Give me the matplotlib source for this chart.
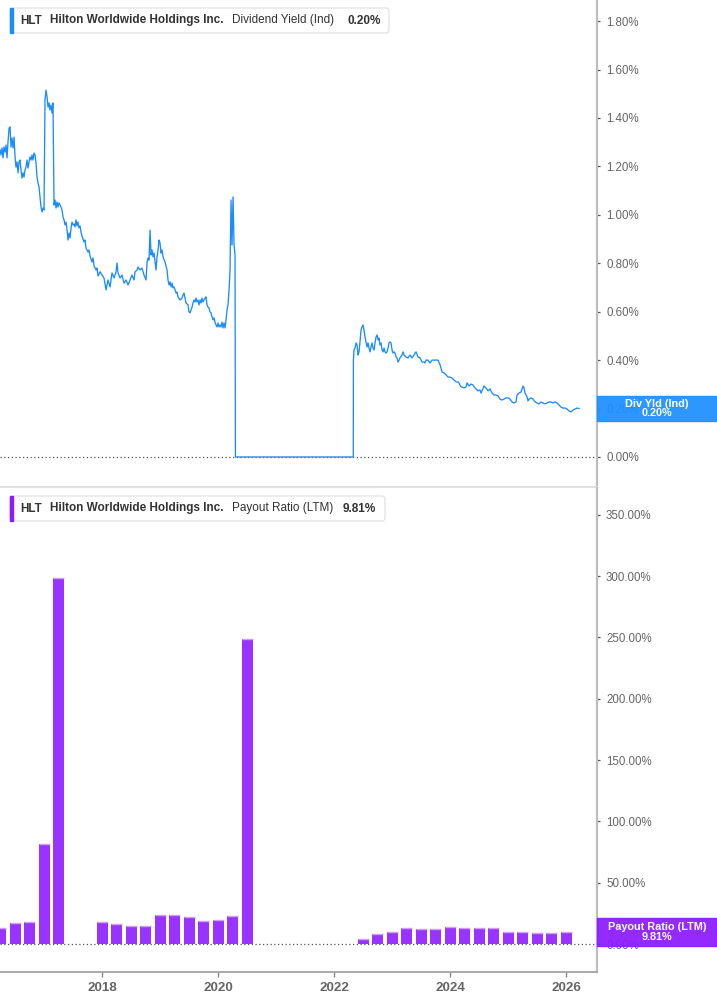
import matplotlib
matplotlib.use("Agg")
import matplotlib.pyplot as plt
from matplotlib.patches import FancyBboxPatch, Rectangle
from matplotlib.transforms import blended_transform_factory
import numpy as np

W, H = 717, 1005

# dividend yield (Ind), % -- decimal year
yield_years = [
    2016.241, 2016.259, 2016.276, 2016.293, 2016.310, 2016.328, 2016.345, 2016.362, 2016.379, 2016.397,
    2016.414, 2016.431, 2016.448, 2016.466, 2016.483, 2016.500, 2016.517, 2016.534, 2016.552, 2016.569,
    2016.586, 2016.603, 2016.621, 2016.638, 2016.655, 2016.672, 2016.690, 2016.707, 2016.724, 2016.741,
    2016.759, 2016.776, 2016.793, 2016.810, 2016.828, 2016.845, 2016.862, 2016.879, 2016.897, 2016.914,
    2016.931, 2016.948, 2016.966, 2016.983, 2017.000, 2017.017, 2017.034, 2017.052, 2017.069, 2017.086,
    2017.103, 2017.121, 2017.138, 2017.155, 2017.172, 2017.190, 2017.207, 2017.224, 2017.241, 2017.259,
    2017.276, 2017.293, 2017.310, 2017.328, 2017.345, 2017.362, 2017.379, 2017.397, 2017.414, 2017.431,
    2017.448, 2017.466, 2017.483, 2017.500, 2017.517, 2017.534, 2017.552, 2017.569, 2017.586, 2017.603,
    2017.621, 2017.638, 2017.655, 2017.690, 2017.707, 2017.724, 2017.759, 2017.776, 2017.793, 2017.828,
    2017.845, 2017.862, 2017.897, 2017.914, 2017.931, 2017.966, 2018.000, 2018.034, 2018.069, 2018.103,
    2018.138, 2018.172, 2018.207, 2018.241, 2018.259, 2018.276, 2018.310, 2018.345, 2018.379, 2018.414,
    2018.448, 2018.483, 2018.517, 2018.552, 2018.569, 2018.603, 2018.621, 2018.655, 2018.690, 2018.724,
    2018.759, 2018.776, 2018.793, 2018.810, 2018.828, 2018.845, 2018.862, 2018.879, 2018.897, 2018.914,
    2018.931, 2018.948, 2018.966, 2018.983, 2019.000, 2019.017, 2019.034, 2019.052, 2019.086, 2019.121,
    2019.138, 2019.155, 2019.172, 2019.190, 2019.207, 2019.224, 2019.241, 2019.259, 2019.276, 2019.293,
    2019.310, 2019.345, 2019.379, 2019.397, 2019.414, 2019.431, 2019.448, 2019.483, 2019.500, 2019.517,
    2019.534, 2019.552, 2019.569, 2019.586, 2019.603, 2019.621, 2019.638, 2019.655, 2019.672, 2019.690,
    2019.707, 2019.724, 2019.741, 2019.759, 2019.776, 2019.793, 2019.810, 2019.828, 2019.845, 2019.862,
    2019.879, 2019.897, 2019.914, 2019.931, 2019.948, 2019.966, 2019.983, 2020.000, 2020.017, 2020.034,
    2020.052, 2020.069, 2020.086, 2020.103, 2020.121, 2020.138, 2020.155, 2020.172, 2020.190, 2020.207,
    2020.224, 2020.241, 2020.259, 2020.276, 2020.293, 2020.300, 2022.332, 2022.334, 2022.345, 2022.362,
    2022.379, 2022.397, 2022.414, 2022.431, 2022.448, 2022.466, 2022.483, 2022.500, 2022.517, 2022.534,
    2022.552, 2022.569, 2022.586, 2022.603, 2022.621, 2022.638, 2022.655, 2022.672, 2022.690, 2022.707,
    2022.724, 2022.741, 2022.759, 2022.776, 2022.793, 2022.810, 2022.828, 2022.845, 2022.862, 2022.879,
    2022.897, 2022.914, 2022.931, 2022.948, 2022.966, 2022.983, 2023.000, 2023.017, 2023.034, 2023.052,
    2023.069, 2023.086, 2023.103, 2023.121, 2023.138, 2023.172, 2023.190, 2023.207, 2023.241, 2023.276,
    2023.310, 2023.345, 2023.379, 2023.397, 2023.414, 2023.448, 2023.483, 2023.517, 2023.552, 2023.569,
    2023.586, 2023.621, 2023.655, 2023.690, 2023.724, 2023.759, 2023.793, 2023.828, 2023.845, 2023.862,
    2023.897, 2023.931, 2023.966, 2024.000, 2024.034, 2024.069, 2024.103, 2024.138, 2024.155, 2024.172,
    2024.190, 2024.207, 2024.241, 2024.276, 2024.293, 2024.328, 2024.362, 2024.397, 2024.414, 2024.448,
    2024.483, 2024.517, 2024.534, 2024.552, 2024.586, 2024.621, 2024.655, 2024.690, 2024.724, 2024.759,
    2024.793, 2024.828, 2024.862, 2024.897, 2024.931, 2024.966, 2025.000, 2025.034, 2025.069, 2025.103,
    2025.138, 2025.155, 2025.190, 2025.224, 2025.259, 2025.276, 2025.293, 2025.328, 2025.345, 2025.362,
    2025.397, 2025.431, 2025.466, 2025.500, 2025.534, 2025.569, 2025.603, 2025.638, 2025.672, 2025.707,
    2025.741, 2025.776, 2025.810, 2025.845, 2025.879, 2025.914, 2025.948, 2025.983, 2026.017, 2026.052,
    2026.086, 2026.121, 2026.155, 2026.190, 2026.224,
]
yield_pct = [
    1.268, 1.247, 1.276, 1.235, 1.280, 1.259, 1.288, 1.235, 1.301, 1.358,
    1.363, 1.280, 1.317, 1.276, 1.321, 1.239, 1.197, 1.218, 1.173, 1.218,
    1.226, 1.185, 1.152, 1.173, 1.156, 1.185, 1.197, 1.226, 1.193, 1.218,
    1.239, 1.226, 1.247, 1.226, 1.255, 1.247, 1.214, 1.156, 1.131, 1.115,
    1.074, 1.032, 1.012, 1.028, 1.020, 1.474, 1.515, 1.486, 1.445, 1.462,
    1.433, 1.453, 1.420, 1.462, 1.040, 1.061, 1.028, 1.053, 1.032, 1.049,
    1.040, 1.032, 1.020, 0.991, 0.979, 0.958, 0.970, 0.937, 0.896, 0.925,
    0.904, 0.946, 0.970, 0.958, 0.962, 0.950, 0.979, 0.954, 0.970, 0.946,
    0.954, 0.929, 0.912, 0.888, 0.896, 0.863, 0.846, 0.855, 0.830, 0.805,
    0.822, 0.789, 0.772, 0.780, 0.747, 0.765, 0.751, 0.739, 0.690, 0.731,
    0.702, 0.760, 0.739, 0.764, 0.801, 0.760, 0.739, 0.751, 0.718, 0.731,
    0.710, 0.731, 0.751, 0.731, 0.764, 0.772, 0.784, 0.772, 0.780, 0.751,
    0.731, 0.801, 0.822, 0.813, 0.937, 0.834, 0.855, 0.826, 0.842, 0.805,
    0.772, 0.826, 0.855, 0.896, 0.884, 0.842, 0.855, 0.826, 0.805, 0.772,
    0.731, 0.710, 0.723, 0.702, 0.718, 0.698, 0.702, 0.690, 0.677, 0.681,
    0.661, 0.648, 0.656, 0.669, 0.677, 0.656, 0.636, 0.628, 0.599, 0.595,
    0.607, 0.619, 0.636, 0.648, 0.640, 0.656, 0.640, 0.648, 0.628, 0.648,
    0.636, 0.656, 0.640, 0.648, 0.656, 0.661, 0.628, 0.619, 0.615, 0.599,
    0.595, 0.578, 0.566, 0.574, 0.557, 0.545, 0.537, 0.553, 0.537, 0.545,
    0.537, 0.557, 0.533, 0.553, 0.533, 0.566, 0.607, 0.628, 0.690, 0.772,
    1.061, 0.875, 1.074, 0.875, 0.834, 0.000, 0.000, 0.400, 0.442, 0.450,
    0.471, 0.462, 0.421, 0.434, 0.475, 0.524, 0.537, 0.545, 0.524, 0.495,
    0.475, 0.454, 0.471, 0.450, 0.434, 0.454, 0.471, 0.450, 0.442, 0.471,
    0.495, 0.504, 0.483, 0.491, 0.462, 0.471, 0.442, 0.434, 0.450, 0.434,
    0.429, 0.434, 0.450, 0.471, 0.475, 0.471, 0.442, 0.429, 0.434, 0.429,
    0.413, 0.409, 0.392, 0.400, 0.409, 0.421, 0.434, 0.421, 0.413, 0.409,
    0.421, 0.409, 0.421, 0.429, 0.434, 0.413, 0.409, 0.392, 0.392, 0.388,
    0.400, 0.400, 0.388, 0.400, 0.400, 0.400, 0.400, 0.380, 0.367, 0.351,
    0.347, 0.339, 0.330, 0.330, 0.326, 0.318, 0.310, 0.310, 0.306, 0.297,
    0.289, 0.289, 0.285, 0.289, 0.306, 0.293, 0.301, 0.297, 0.289, 0.281,
    0.273, 0.277, 0.264, 0.273, 0.293, 0.285, 0.273, 0.281, 0.264, 0.256,
    0.256, 0.252, 0.239, 0.235, 0.239, 0.244, 0.244, 0.239, 0.227, 0.223,
    0.227, 0.256, 0.264, 0.268, 0.293, 0.285, 0.264, 0.248, 0.231, 0.239,
    0.244, 0.239, 0.227, 0.223, 0.219, 0.227, 0.223, 0.219, 0.223, 0.227,
    0.227, 0.223, 0.227, 0.223, 0.215, 0.206, 0.202, 0.202, 0.198, 0.190,
    0.186, 0.194, 0.198, 0.202, 0.200,
]

# payout ratio (LTM), %, by fiscal quarter
quarters = [
    "2016Q1", "2016Q2", "2016Q3", "2016Q4", "2017Q1",
    "2017Q4", "2018Q1", "2018Q2", "2018Q3", "2018Q4", "2019Q1", "2019Q2", "2019Q3",
    "2019Q4", "2020Q1", "2020Q2",
    "2022Q2", "2022Q3", "2022Q4", "2023Q1", "2023Q2", "2023Q3", "2023Q4", "2024Q1",
    "2024Q2", "2024Q3", "2024Q4", "2025Q1", "2025Q2", "2025Q3", "2025Q4",
]
payout_pct = [
    13.4, 16.8, 17.6, 81.5, 298.5,
    17.9, 16.0, 15.0, 14.4, 23.5, 23.3, 21.7, 18.7,
    19.5, 22.7, 248.8,
    4.5, 7.8, 9.9, 13.1, 12.6, 12.3, 13.6, 12.8,
    12.8, 12.8, 9.6, 9.6, 9.4, 8.8, 9.81,
]

year_ticks = [2018, 2020, 2022, 2024, 2026]
yield_ticks = [0.0, 0.2, 0.4, 0.6, 0.8, 1.0, 1.2, 1.4, 1.6, 1.8]
payout_ticks = [0, 50, 100, 150, 200, 250, 300, 350]

BLUE = "#1a8cff"
PURPLE = "#9933ff"
PURPLE_BOX = "#8c1aff"
GREY_TXT = "#666666"

plt.rcParams["font.family"] = ["Liberation Sans", "DejaVu Sans"]


def fx(x):
    return x / W


def fy(y):
    return 1 - y / H


def legend_box(fig, top, bottom, right, color, label, value, value_x):
    box = FancyBboxPatch((fx(10), fy(bottom)), fx(right) - fx(10), fy(top) - fy(bottom),
                         boxstyle="round,pad=0,rounding_size=0.004",
                         transform=fig.transFigure, fc="white", ec="#e2e2e2", lw=0.9)
    fig.patches.append(box)
    fig.patches.append(Rectangle((fx(10), fy(bottom)), fx(13) - fx(10), fy(top) - fy(bottom),
                                 transform=fig.transFigure, color=color))
    yc = fy((top + bottom) / 2)
    kw = dict(va="center", ha="left", fontsize=8.5, color="#333333")
    fig.text(fx(20), yc, "HLT", fontweight="bold", **kw)
    fig.text(fx(50), yc, "Hilton Worldwide Holdings Inc.", fontweight="bold", **kw)
    fig.text(fx(232), yc, label, **kw)
    fig.text(fx(value_x), yc, value, fontweight="bold", **kw)


def value_tag(ax, val, h, color, text):
    # tag is slightly see-through: the tick label behind it shows faintly, as in the source
    tr = blended_transform_factory(ax.transAxes, ax.transData)
    wfrac = 120 / 597
    ax.add_patch(Rectangle((1.0, val - h / 2), wfrac, h, transform=tr, color=color,
                           alpha=0.93, clip_on=False, zorder=10))
    ax.text(1.0 + wfrac / 2, val, text, transform=tr, ha="center", va="center",
            color="white", fontweight="bold", fontsize=7.8, linespacing=0.95,
            zorder=11, clip_on=False)


def style_axis(ax):
    for side in ["left", "top"]:
        ax.spines[side].set_visible(False)
    ax.spines["right"].set_color("#bdbdbd")
    ax.spines["right"].set_linewidth(1.6)
    ax.yaxis.tick_right()
    ax.tick_params(axis="y", length=2.5, width=0.9, pad=4, color="#555555",
                   labelcolor=GREY_TXT, labelsize=8.3)


def main():
    fig = plt.figure(figsize=(W / 100, H / 100), dpi=100)
    xmin, xmax = 2016.241, 2026.534

    # top panel: dividend yield
    ax1 = fig.add_axes([0, fy(487), fx(597), 487 / H])
    style_axis(ax1)
    ax1.spines["bottom"].set_color("#e0e0e0")
    ax1.spines["bottom"].set_linewidth(1.4)
    ax1.set_xlim(xmin, xmax)
    ax1.set_ylim(-0.124, 1.887)
    ax1.set_xticks([])
    ax1.set_yticks(yield_ticks)
    ax1.set_yticklabels([f"{v:.2f}%" for v in yield_ticks])
    ax1.axhline(0, color="#555555", ls=(0, (1, 2)), lw=0.9, zorder=1)
    ax1.plot(yield_years, yield_pct, color=BLUE, lw=0.95, zorder=3)
    value_tag(ax1, yield_pct[-1], 25 / 242.2, "#1e8fff", f"Div Yld (Ind)\n{yield_pct[-1]:.2f}%")

    # bottom panel: payout ratio bars
    ax2 = fig.add_axes([0, fy(972), fx(597), (972 - 488) / H])
    style_axis(ax2)
    ax2.spines["bottom"].set_color("#a8a8a8")
    ax2.spines["bottom"].set_linewidth(1.4)
    ax2.set_xlim(xmin, xmax)
    ax2.set_ylim(-22.8, 371.9)
    ax2.set_yticks(payout_ticks)
    ax2.set_yticklabels([f"{v:.2f}%" for v in payout_ticks])
    ax2.set_xticks(year_ticks)
    ax2.set_xticklabels([str(y) for y in year_ticks])
    ax2.tick_params(axis="x", length=3.5, width=1, color="#888888", pad=4,
                    labelcolor=GREY_TXT, labelsize=9.6)
    for lab in ax2.get_xticklabels():
        lab.set_fontweight("bold")

    qx = np.array([int(q[:4]) + int(q[-1]) / 4 for q in quarters])
    pv = np.array(payout_pct)
    bw = 11 / 58
    ax2.axhline(0, color="#555555", ls=(0, (1, 2)), lw=0.9, zorder=1)
    ax2.bar(qx, pv, width=bw, color=PURPLE, lw=0, zorder=2)
    ax2.hlines(pv, qx - bw / 2, qx + bw / 2, color="#cf9fff", lw=1.0, zorder=3)
    value_tag(ax2, pv[-1], 28 / 1.226, PURPLE_BOX, f"Payout Ratio (LTM)\n{pv[-1]:.2f}%")

    legend_box(fig, 8, 33, 389, BLUE, "Dividend Yield (Ind)", f"{yield_pct[-1]:.2f}%", 347)
    legend_box(fig, 496, 521, 385, PURPLE_BOX, "Payout Ratio (LTM)", f"{pv[-1]:.2f}%", 343)

    fig.savefig("out.png", dpi=100)
    plt.close(fig)


if __name__ == "__main__":
    main()
